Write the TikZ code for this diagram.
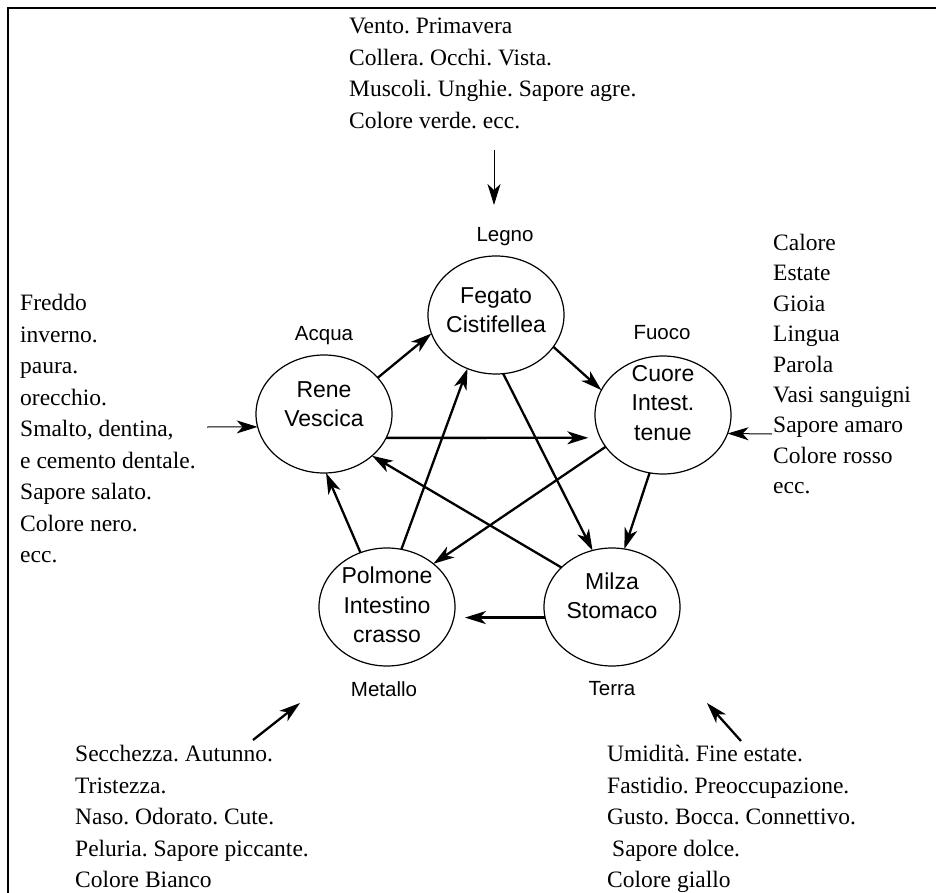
\documentclass[tikz,border=0pt]{standalone}
\usepackage{fontspec}
\setmainfont{Liberation Serif}
\newfontfamily\organfont{Liberation Sans}
\usetikzlibrary{arrows.meta,shapes.geometric}
\frenchspacing
\begin{document}
\begin{tikzpicture}[x=1pt,y=-1pt,
  organ/.style={draw, ellipse, line width=1.2pt, minimum width=136pt,
    minimum height=118pt, inner sep=0pt, outer sep=0pt},
  organtext/.style={font=\organfont\fontsize{23}{29.5}\selectfont, align=center, inner sep=0pt},
  element/.style={font=\organfont\fontsize{20.5}{24}\selectfont, inner sep=0pt},
  notes/.style={font=\fontsize{23.5}{31.5}\selectfont, align=left, anchor=north west, inner sep=0pt},
  tip/.style={-{Stealth[length=21pt,width=13pt,inset=6pt]}},
  flow/.style={tip, line width=2.3pt},
  feed/.style={tip, line width=1pt},
  feedthick/.style={tip, line width=2.3pt}]
\useasboundingbox (0,0) rectangle (936,893);

% frame
\draw[line width=2.5pt] (936,8) -- (8,8) -- (8,893);

% the five organ pairs
\node[organ] (fegato)  at (496,315) {};
\node[organ] (rene)    at (324,414) {};
\node[organ] (cuore)   at (663,415) {};
\node[organ] (polmone) at (387,607) {};
\node[organ] (milza)   at (612,607) {};

\node[organtext] (fegatotxt)  at (496,310) {Fegato\\Cistifellea};
\node[organtext] (renetxt)    at (324,404) {Rene\\Vescica};
\node[organtext] (cuoretxt)   at (663,403) {Cuore\\Intest.\\tenue};
\node[organtext] (polmonetxt) at (387,605) {Polmone\\Intestino\\crasso};
\node[organtext] (milzatxt)   at (612,596) {Milza\\Stomaco};

% element names
\node[element] (legno)   at (505,237) {Legno};
\node[element] (acqua)   at (324,336) {Acqua};
\node[element] (fuoco)   at (662,333) {Fuoco};
\node[element] (metallo) at (384,689) {Metallo};
\node[element] (terra)   at (612,689) {Terra};

% generating cycle
\draw[flow] (rene.34) -- (fegato.196);
\draw[flow] (fegato.-29) -- (cuore.158);
\draw[flow] (cuore.-103) -- (milza.78);
\draw[flow, shorten >=11pt] (milza.189) -- (polmone.-9);
\draw[flow] (polmone.116) -- (rene.-88);

% controlling cycle
\draw[flow, shorten >=12pt] (rene.-21) -- (cuore.200);
\draw[flow] (fegato.-83) -- (milza.109);
\draw[flow] (cuore.209) -- (polmone.43);
\draw[flow] (milza.142) -- (rene.-41);
\draw[flow] (polmone.76) -- (fegato.242);

% correspondences
\node[notes] (wood) at (349,18) {Vento. Primavera\\Collera. Occhi. Vista.\\Muscoli. Unghie. Sapore agre.\\Colore verde. ecc.};
\node[notes] (water) at (20,294) {Freddo\\inverno.\\paura.\\orecchio.\\Smalto, dentina,\\e cemento dentale.\\Sapore salato.\\Colore nero.\\ecc.};
\node[notes, font=\fontsize{23.5}{30.4}\selectfont] (fire) at (773,234) {Calore\\Estate\\Gioia\\Lingua\\Parola\\Vasi sanguigni\\Sapore amaro\\Colore rosso\\ecc.};
\node[notes] (metal) at (75,745) {Secchezza. Autunno.\\Tristezza.\\Naso. Odorato. Cute.\\Peluria. Sapore piccante.\\Colore Bianco};
\node[notes] (earth) at (607,745) {Umidità. Fine estate.\\Fastidio. Preoccupazione.\\Gusto. Bocca. Connettivo.\\\hspace*{5pt}Sapore dolce.\\Colore giallo};

% arrows from the correspondences
\coordinate (woodtail) at (494,150);
\coordinate (woodtip)  at (494,205);
\draw[feed] (woodtail) -- (woodtip);
\coordinate (watertail) at (207,427);
\draw[feed] (watertail) -- (rene.191);
\coordinate (firetail) at (772,434);
\draw[feed] (firetail) -- (cuore.-16);
\coordinate (metaltail) at (253,740);
\coordinate (metaltip)  at (300,703);
\draw[feedthick] (metaltail) -- (metaltip);
\coordinate (earthtail) at (741,741);
\coordinate (earthtip)  at (707,703);
\draw[feedthick] (earthtail) -- (earthtip);
\end{tikzpicture}
\end{document}
